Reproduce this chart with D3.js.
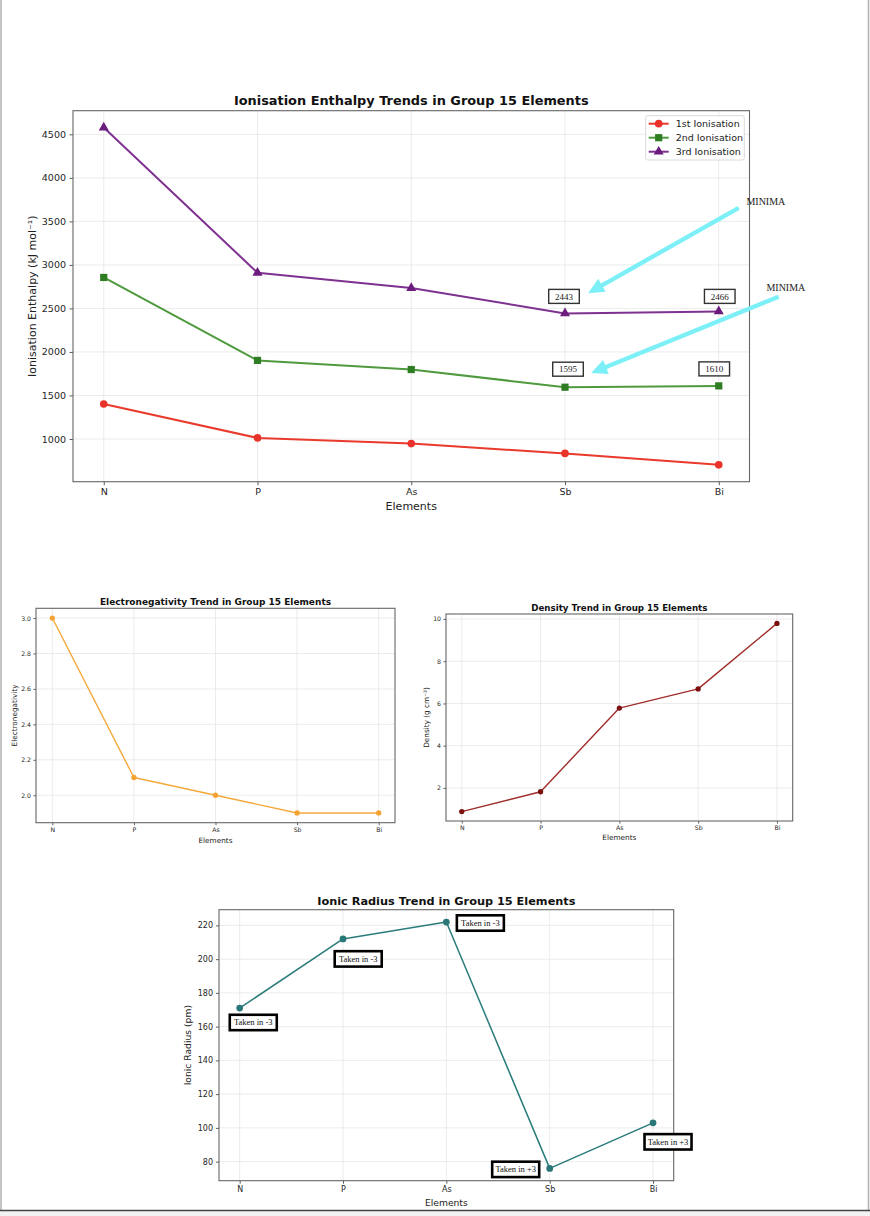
<!DOCTYPE html>
<html>
<head>
<meta charset="utf-8">
<script src="https://cdn.jsdelivr.net/npm/d3@7"></script>
<style>
  html, body { margin: 0; padding: 0; background: #fff; }
  svg { display: block; font-family: "DejaVu Sans", sans-serif; }
</style>
</head>
<body>
<svg id="page" width="870" height="1216"></svg>
<script>
// data
const elements = ['N', 'P', 'As', 'Sb', 'Bi'];
const ie1 = [1402, 1012, 947, 834, 703];
const ie2 = [2856, 1903, 1798, 1595, 1610];
const ie3 = [4578, 2910, 2735, 2443, 2466];
const ieNames = ['1st Ionisation', '2nd Ionisation', '3rd Ionisation'];
const electroneg = [3.0, 2.1, 2.0, 1.9, 1.9];
const density = [0.88, 1.82, 5.78, 6.69, 9.79];
const ionicRadius = [171, 212, 222, 76, 103];
const ionicNotes = ['Taken in -3', 'Taken in -3', 'Taken in -3', 'Taken in +3', 'Taken in +3'];
const ieTicks = [1000, 1500, 2000, 2500, 3000, 3500, 4000, 4500];
const enTicks = [2.0, 2.2, 2.4, 2.6, 2.8, 3.0];
const densityTicks = [2, 4, 6, 8, 10];
const radiusTicks = [80, 100, 120, 140, 160, 180, 200, 220];

const svg = d3.select('#page');
const serif = '"Liberation Serif", "DejaVu Serif", serif';

// page frame
svg.append('line').attr('x1', 1).attr('x2', 1).attr('y1', 0).attr('y2', 1210)
  .attr('stroke', '#b0b0b0').attr('stroke-width', 1.5);
svg.append('line').attr('x1', 868.5).attr('x2', 868.5).attr('y1', 0).attr('y2', 1210)
  .attr('stroke', '#b0b0b0').attr('stroke-width', 1.5);
svg.append('rect').attr('x', 0).attr('y', 1211).attr('width', 870).attr('height', 5).attr('fill', '#f2f2f2');
svg.append('line').attr('x1', 0).attr('x2', 870).attr('y1', 1210.5).attr('y2', 1210.5)
  .attr('stroke', '#444').attr('stroke-width', 1.5);

function pad(values) {
  const [lo, hi] = d3.extent(values);
  const m = (hi - lo) * 0.05;
  return [lo - m, hi + m];
}

function panel(o) {
  const g = svg.append('g');
  const x = d3.scaleLinear().domain([-0.2, elements.length - 0.8]).range([o.left, o.right]);
  const y = d3.scaleLinear().domain(pad(o.values)).range([o.bottom, o.top]);

  // grid
  g.append('g').selectAll('line').data(elements).join('line')
    .attr('x1', (d, i) => x(i)).attr('x2', (d, i) => x(i))
    .attr('y1', o.top).attr('y2', o.bottom)
    .attr('stroke', '#e6e6e6').attr('stroke-width', 0.8);
  g.append('g').selectAll('line').data(o.ticks).join('line')
    .attr('x1', o.left).attr('x2', o.right)
    .attr('y1', d => y(d)).attr('y2', d => y(d))
    .attr('stroke', '#e6e6e6').attr('stroke-width', 0.8);

  // axes
  const xAxis = d3.axisBottom(x).tickValues(d3.range(elements.length))
    .tickFormat(i => elements[i]).tickSize(o.tick).tickPadding(o.tickPad);
  const yAxis = d3.axisLeft(y).tickValues(o.ticks)
    .tickFormat(o.fmt).tickSize(o.tick).tickPadding(o.tickPad);
  [g.append('g').attr('transform', `translate(0,${o.bottom})`).call(xAxis),
   g.append('g').attr('transform', `translate(${o.left},0)`).call(yAxis)].forEach(a => {
    a.select('.domain').remove();
    a.selectAll('line').attr('stroke', '#333').attr('stroke-width', 0.8);
    a.selectAll('text').attr('fill', '#262626').style('font-size', o.tickFont + 'px')
      .style('font-family', '"DejaVu Sans", sans-serif');
  });

  g.append('rect').attr('x', o.left).attr('y', o.top)
    .attr('width', o.right - o.left).attr('height', o.bottom - o.top)
    .attr('fill', 'none').attr('stroke', '#666').attr('stroke-width', 1.1);

  g.append('text').attr('x', (o.left + o.right) / 2).attr('y', o.titleY)
    .attr('text-anchor', 'middle').attr('font-weight', 'bold')
    .style('font-size', o.titleFont + 'px').attr('fill', '#111').text(o.title);
  g.append('text').attr('x', (o.left + o.right) / 2).attr('y', o.xlabelY)
    .attr('text-anchor', 'middle').style('font-size', o.labelFont + 'px')
    .attr('fill', '#222').text('Elements');
  g.append('text')
    .attr('transform', `translate(${o.ylabelX},${(o.top + o.bottom) / 2}) rotate(-90)`)
    .attr('text-anchor', 'middle').attr('dy', '0.35em')
    .style('font-size', o.labelFont + 'px').attr('fill', '#222').text(o.ylabel);

  return { g, x, y };
}

function series(p, values, line, fill, width, symbol, size) {
  p.g.append('path').datum(values)
    .attr('d', d3.line().x((d, i) => p.x(i)).y(d => p.y(d)))
    .attr('fill', 'none').attr('stroke', line).attr('stroke-width', width)
    .attr('stroke-linejoin', 'round');
  p.g.append('g').selectAll('path').data(values).join('path')
    .attr('transform', (d, i) => `translate(${p.x(i)},${p.y(d)})`)
    .attr('d', d3.symbol().type(symbol).size(size))
    .attr('fill', fill);
}

// ---------- ionisation enthalpy ----------
const ieChart = panel({
  left: 73, right: 749.5, top: 110.7, bottom: 481.7,
  values: ie1.concat(ie2, ie3), ticks: ieTicks, fmt: d3.format('d'),
  tick: 3.5, tickPad: 3.5, tickFont: 9.5,
  title: 'Ionisation Enthalpy Trends in Group 15 Elements', titleY: 104.8, titleFont: 12.9,
  xlabelY: 510, labelFont: 11, ylabel: 'Ionisation Enthalpy (kJ mol\u207B\u00B9)', ylabelX: 32
});

const ieSeries = [
  { values: ie1, line: '#ea3a2c', fill: '#e8322a', symbol: d3.symbolCircle, size: 46 },
  { values: ie2, line: '#4f9a3e', fill: '#2f7d22', symbol: d3.symbolSquare, size: 52 },
  { values: ie3, line: '#7e3190', fill: '#6c1c7c', symbol: d3.symbolTriangle, size: 44 }
];
ieSeries.forEach(s => series(ieChart, s.values, s.line, s.fill, 2, s.symbol, s.size));

// legend
const legend = ieChart.g.append('g').attr('transform', 'translate(645.7,115.7)');
legend.append('rect').attr('width', 98.6).attr('height', 44.3).attr('rx', 2)
  .attr('fill', 'white').attr('fill-opacity', 0.85).attr('stroke', '#d0d0d0').attr('stroke-width', 0.8);
ieSeries.forEach((s, i) => {
  const row = legend.append('g').attr('transform', `translate(0,${8 + i * 14})`);
  row.append('line').attr('x1', 3).attr('x2', 23).attr('stroke', s.line).attr('stroke-width', 2);
  row.append('path').attr('transform', 'translate(13,0)')
    .attr('d', d3.symbol().type(s.symbol).size(s.size)).attr('fill', s.fill);
  row.append('text').attr('x', 30).attr('dy', '0.35em').style('font-size', '9.5px')
    .attr('fill', '#222').text(ieNames[i]);
});

// minima value boxes
const minimaBoxes = [
  { i: 3, v: ie3[3], dx: -1, dy: -17 },
  { i: 4, v: ie3[4], dx: 1, dy: -15 },
  { i: 3, v: ie2[3], dx: 3, dy: -18 },
  { i: 4, v: ie2[4], dx: -4.5, dy: -17 }
];
minimaBoxes.forEach(b => {
  const cx = ieChart.x(b.i) + b.dx, cy = ieChart.y(b.v) + b.dy;
  ieChart.g.append('rect').attr('x', cx - 15.3).attr('y', cy - 7).attr('width', 30.6).attr('height', 14)
    .attr('fill', 'white').attr('stroke', '#333').attr('stroke-width', 1.4);
  ieChart.g.append('text').attr('x', cx).attr('y', cy).attr('dy', '0.35em')
    .attr('text-anchor', 'middle').style('font-family', serif).style('font-size', '9px')
    .attr('fill', '#222').text(b.v);
});

// MINIMA arrows (index/value coordinates)
const minimaArrows = [
  { from: [4.13, 3655], to: [3.15, 2675], label: [4.18, 3723] },
  { from: [4.39, 2635], to: [3.17, 1757], label: [4.31, 2735] }
];
minimaArrows.forEach(a => {
  const x0 = ieChart.x(a.from[0]), y0 = ieChart.y(a.from[1]);
  const x1 = ieChart.x(a.to[0]), y1 = ieChart.y(a.to[1]);
  const ang = Math.atan2(y1 - y0, x1 - x0);
  const hl = 16, hw = 7.5, sw = 2.2;
  const ux = Math.cos(ang), uy = Math.sin(ang), nx = -uy, ny = ux;
  const bx = x1 - ux * hl, by = y1 - uy * hl;
  const pts = [
    [x0 + nx * sw, y0 + ny * sw], [bx + nx * sw, by + ny * sw], [bx + nx * hw, by + ny * hw],
    [x1, y1], [bx - nx * hw, by - ny * hw], [bx - nx * sw, by - ny * sw], [x0 - nx * sw, y0 - ny * sw]
  ];
  ieChart.g.append('path').attr('d', d3.line()(pts) + 'Z').attr('fill', '#7df0f7');
  ieChart.g.append('text').attr('x', ieChart.x(a.label[0])).attr('y', ieChart.y(a.label[1])).attr('dy', '0.35em')
    .style('font-family', serif).style('font-size', '10px').attr('fill', '#222').text('MINIMA');
});

// ---------- electronegativity ----------
const en = panel({
  left: 36, right: 395, top: 608.3, bottom: 822.7,
  values: electroneg, ticks: enTicks, fmt: d3.format('.1f'),
  tick: 2.5, tickPad: 2.5, tickFont: 6.2,
  title: 'Electronegativity Trend in Group 15 Elements', titleY: 604.8, titleFont: 9,
  xlabelY: 843.3, labelFont: 7.3, ylabel: 'Electronegativity', ylabelX: 14
});
series(en, electroneg, '#f5a83a', '#f4a232', 1.4, d3.symbolCircle, 22);

// ---------- density ----------
const dn = panel({
  left: 446, right: 792.7, top: 614, bottom: 821,
  values: density, ticks: densityTicks, fmt: d3.format('d'),
  tick: 2.5, tickPad: 2.5, tickFont: 6.2,
  title: 'Density Trend in Group 15 Elements', titleY: 611.1, titleFont: 8.7,
  xlabelY: 840.3, labelFont: 7.3, ylabel: 'Density (g cm\u207B\u00B3)', ylabelX: 426
});
series(dn, density, '#9e2d2b', '#7a1010', 1.4, d3.symbolCircle, 22);

// ---------- ionic radius ----------
const ir = panel({
  left: 219, right: 673.7, top: 909.7, bottom: 1180.7,
  values: ionicRadius, ticks: radiusTicks, fmt: d3.format('d'),
  tick: 3, tickPad: 3, tickFont: 8,
  title: 'Ionic Radius Trend in Group 15 Elements', titleY: 905, titleFont: 11.3,
  xlabelY: 1205.6, labelFont: 9.2, ylabel: 'Ionic Radius (pm)', ylabelX: 188
});
series(ir, ionicRadius, '#2a7b7b', '#2a7777', 1.5, d3.symbolCircle, 36);

const noteOffsets = [[13.6, 14.4], [15.2, 20], [34, 1], [-34, 1], [15, 19]];
ionicRadius.forEach((v, i) => {
  const cx = ir.x(i) + noteOffsets[i][0], cy = ir.y(v) + noteOffsets[i][1];
  ir.g.append('rect').attr('x', cx - 23.5).attr('y', cy - 7.7).attr('width', 47).attr('height', 15.4)
    .attr('fill', 'white').attr('stroke', '#000').attr('stroke-width', 2.6);
  ir.g.append('text').attr('x', cx).attr('y', cy).attr('dy', '0.35em')
    .attr('text-anchor', 'middle').style('font-family', serif).style('font-size', '8.5px')
    .attr('fill', '#111').text(ionicNotes[i]);
});
</script>
</body>
</html>
